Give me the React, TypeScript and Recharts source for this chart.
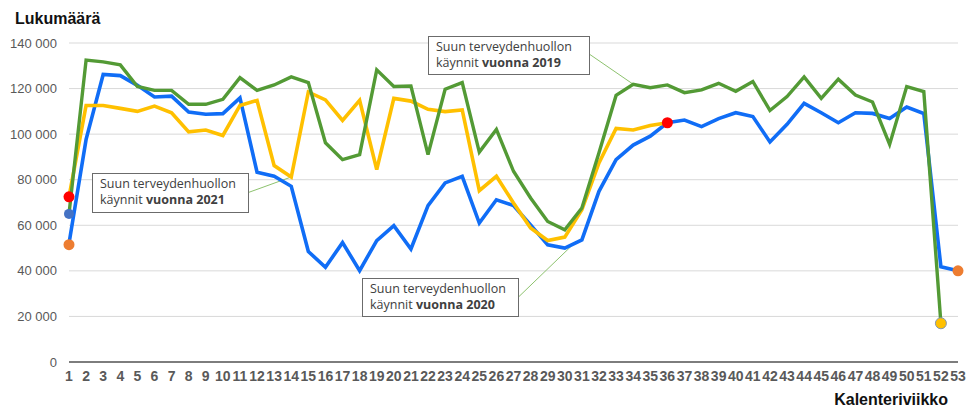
import React from "react";
import {
  CartesianGrid,
  Line,
  LineChart,
  ReferenceDot,
  ReferenceLine,
  XAxis,
  YAxis,
} from "recharts";

const weeks = Array.from({ length: 53 }, (_, i) => i + 1);

const visits2019 = [
  65000, 132500, 131700, 130400, 120900, 119200, 119200, 113100, 113100, 115300,
  124800, 119200, 121600, 125100, 122600, 96200, 88800, 91000, 128200, 120900,
  121100, 91000, 119700, 122600, 92100, 102100, 83700, 72000, 61700, 58000,
  67600, 91800, 117000, 121900, 120400, 121600, 118200, 119400, 122300, 118800,
  123100, 110400, 116500, 125100, 115700, 124100, 117200, 114100, 95500, 120900,
  118700, 17000,
];

const visits2020 = [
  52000, 97700, 126200, 125700, 121400, 116300, 116700, 109700, 108700, 109000,
  115900, 83300, 81500, 77100, 48500, 41600, 52400, 40100, 53300, 59800,
  49600, 68600, 78600, 81500, 61000, 71200, 68700, 60200, 51400, 50000,
  53600, 74900, 88800, 95200, 99100, 105000, 106200, 103300, 106800, 109400,
  107700, 96600, 104300, 113500, 109400, 105000, 109400, 109100, 106900, 111900,
  109000, 41800, 40000,
];

const visits2021 = [
  72500, 112600, 112600, 111300, 110000, 112300, 109400, 101000, 101800, 99400,
  112600, 114800, 86200, 81200, 118500, 115000, 106000, 114800, 84400, 115700,
  114500, 110900, 109900, 110600, 75200, 81500, 69800, 58800, 53300, 54800,
  66800, 87400, 102500, 101800, 103800, 105000,
];

const yTicks = [0, 20000, 40000, 60000, 80000, 100000, 120000, 140000];

const chartData = weeks.map((week, i) => ({
  week,
  v2019: visits2019[i],
  v2020: visits2020[i],
  v2021: visits2021[i],
}));

const fmt = (v: number) =>
  String(v).replace(/\B(?=(\d{3})+(?!\d))/g, " ");

const GREEN = "#539A35";
const BLUE = "#106DF6";
const YELLOW = "#FFC000";
const LEADER = "#8DC26E";

function YTick(props: any) {
  const { y, payload } = props;
  return (
    <text
      x={57}
      y={y + 4.5}
      textAnchor="end"
      fontFamily="Liberation Sans, Arial, sans-serif"
      fontSize={13}
      fill="#595959"
    >
      {fmt(payload.value)}
    </text>
  );
}

function XTick(props: any) {
  const { x, payload } = props;
  return (
    <text
      x={x}
      y={381}
      textAnchor="middle"
      fontFamily="Liberation Sans, Arial, sans-serif"
      fontWeight="bold"
      fontSize={14}
      fill="#595959"
    >
      {payload.value}
    </text>
  );
}

function Note(props: { x: number; y: number; w: number; h: number; year: string }) {
  const { x, y, w, h, year } = props;
  return (
    <g>
      <rect x={x + 0.5} y={y + 0.5} width={w} height={h} fill="#fff" stroke="#6b6b6b" />
      <text
        x={x + 8}
        y={y + 15}
        fontFamily="Open Sans, sans-serif"
        fontSize={12.5}
        fill="#404040"
      >
        Suun terveydenhuollon
      </text>
      <text
        x={x + 8}
        y={y + 30.5}
        fontFamily="Open Sans, sans-serif"
        fontSize={12.5}
        fill="#404040"
      >
        käynnit <tspan fontWeight="bold">vuonna {year}</tspan>
      </text>
    </g>
  );
}

export default function App(): React.JSX.Element {
  return (
    <div style={{ position: "absolute", left: 0, top: 0, width: 969, height: 407 }}>
      <LineChart
        width={969}
        height={407}
        data={chartData}
        margin={{ top: 43, right: 11, bottom: 0, left: 0 }}
      >
        <CartesianGrid vertical={false} stroke="#D9D9D9" />
        <XAxis
          dataKey="week"
          type="number"
          domain={[1, 53]}
          ticks={weeks}
          interval={0}
          height={45}
          tickLine={false}
          axisLine={{ stroke: "#595959", strokeWidth: 1.5 }}
          tick={<XTick />}
        />
        <YAxis
          width={69}
          domain={[0, 140000]}
          ticks={yTicks}
          axisLine={false}
          tickLine={false}
          tick={<YTick />}
        />
        <ReferenceLine
          segment={[{ x: 11.46, y: 74300 }, { x: 14, y: 81200 }]}
          stroke={LEADER}
          ifOverflow="visible"
        />
        <ReferenceLine
          segment={[{ x: 31.44, y: 135100 }, { x: 34, y: 121900 }]}
          stroke={LEADER}
          ifOverflow="visible"
        />
        <ReferenceLine
          segment={[{ x: 27.29, y: 28500 }, { x: 30.4, y: 51000 }]}
          stroke={LEADER}
          ifOverflow="visible"
        />
        <Line
          dataKey="v2020"
          stroke={BLUE}
          strokeWidth={3.6}
          dot={false}
          isAnimationActive={false}
        />
        <Line
          dataKey="v2021"
          stroke={YELLOW}
          strokeWidth={3.6}
          dot={false}
          isAnimationActive={false}
        />
        <Line
          dataKey="v2019"
          stroke={GREEN}
          strokeWidth={3.4}
          dot={false}
          isAnimationActive={false}
        />
        <ReferenceDot x={1} y={72500} r={5.5} fill="#FF0000" stroke="none" ifOverflow="visible" />
        <ReferenceDot x={1} y={65000} r={5} fill="#4472C4" stroke="none" ifOverflow="visible" />
        <ReferenceDot x={1} y={51500} r={5.5} fill="#ED7D31" stroke="none" ifOverflow="visible" />
        <ReferenceDot x={36} y={105000} r={5.5} fill="#FF0000" stroke="none" ifOverflow="visible" />
        <ReferenceDot x={52} y={17000} r={5.5} fill={YELLOW} stroke="#8497B0" strokeWidth={1} ifOverflow="visible" />
        <ReferenceDot x={53} y={40000} r={5.5} fill="#ED7D31" stroke="none" ifOverflow="visible" />
      </LineChart>
      <svg
        width={969}
        height={407}
        style={{ position: "absolute", left: 0, top: 0, pointerEvents: "none" }}
      >
        <text
          x={15}
          y={24}
          fontFamily="Liberation Sans, Arial, sans-serif"
          fontWeight="bold"
          fontSize={16}
          fill="#111"
        >
          Lukumäärä
        </text>
        <text
          x={948}
          y={405}
          textAnchor="end"
          fontFamily="Liberation Sans, Arial, sans-serif"
          fontWeight="bold"
          fontSize={16}
          fill="#111"
        >
          Kalenteriviikko
        </text>
        <Note x={92} y={173} w={156} h={39} year="2021" />
        <Note x={428} y={36} w={161} h={38} year="2019" />
        <Note x={362} y={278} w={156} h={38} year="2020" />
      </svg>
    </div>
  );
}
